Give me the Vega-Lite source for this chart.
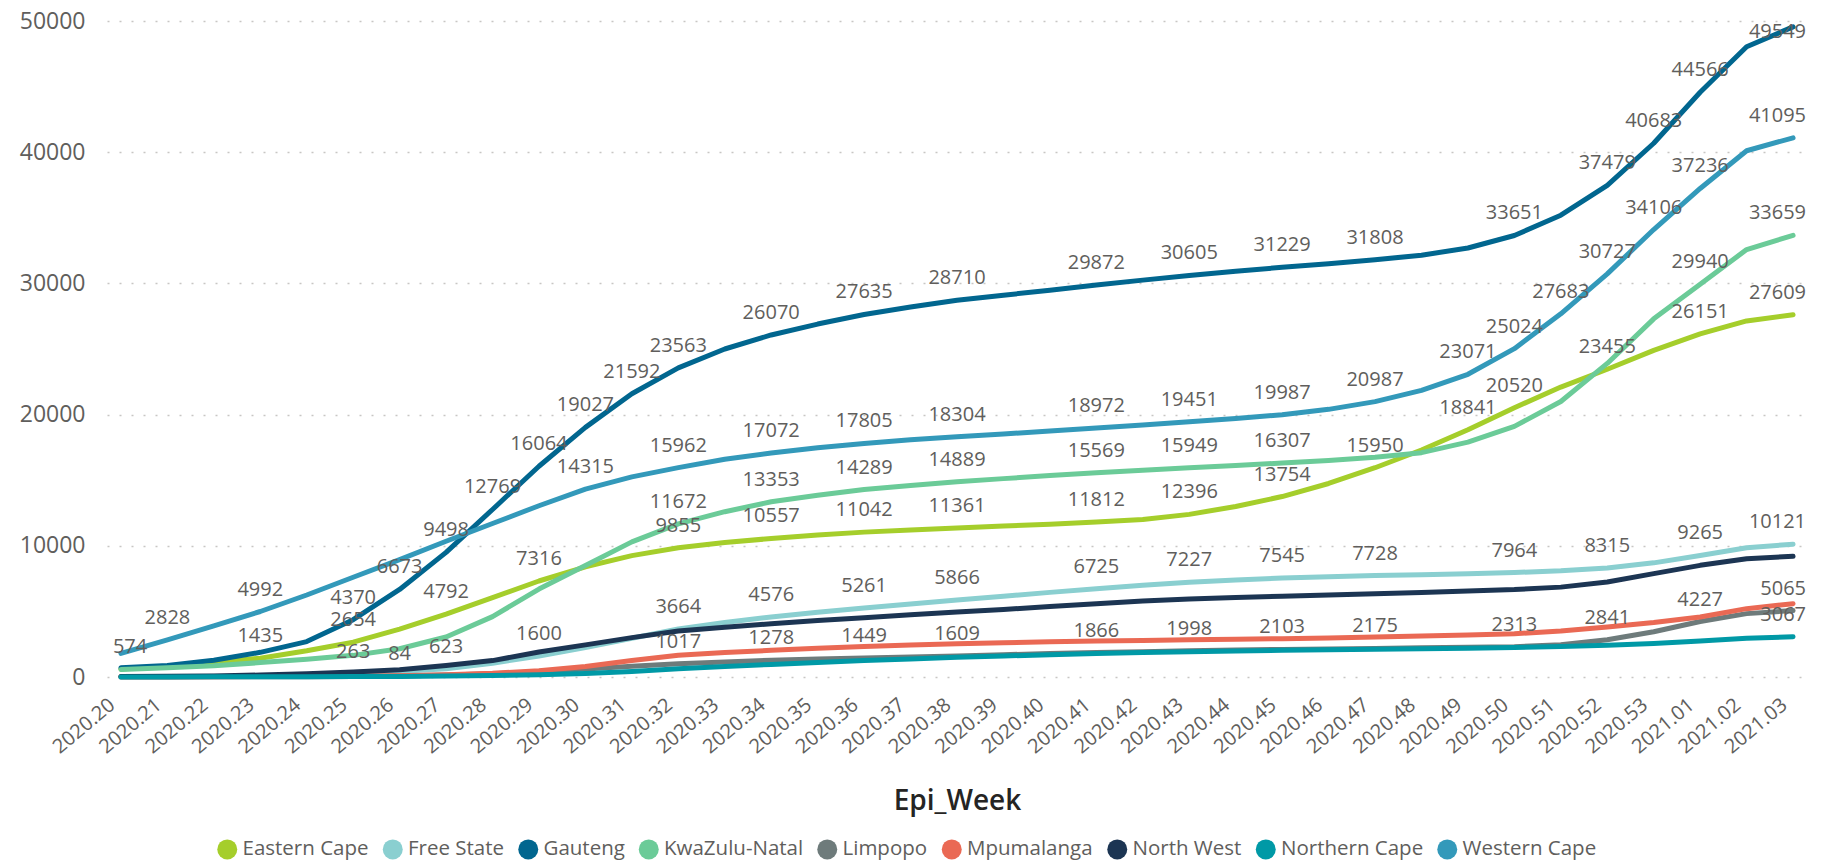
{
"$schema":"https://vega.github.io/schema/vega-lite/v6.json",
"width":1700,"height":656,
"autosize":{"type":"none"},
"padding":{"left":107,"top":21,"right":21,"bottom":185},
"config":{"view":{"stroke":null},"font":"Open Sans"},
"datasets":{
"deaths":[
{"week":"2020.20","province":"Eastern Cape","deaths":600},{"week":"2020.21","province":"Eastern Cape","deaths":800},{"week":"2020.22","province":"Eastern Cape","deaths":1100},{"week":"2020.23","province":"Eastern Cape","deaths":1435},{"week":"2020.24","province":"Eastern Cape","deaths":2000},{"week":"2020.25","province":"Eastern Cape","deaths":2654},{"week":"2020.26","province":"Eastern Cape","deaths":3650},{"week":"2020.27","province":"Eastern Cape","deaths":4792},{"week":"2020.28","province":"Eastern Cape","deaths":6050},{"week":"2020.29","province":"Eastern Cape","deaths":7316},{"week":"2020.30","province":"Eastern Cape","deaths":8400},{"week":"2020.31","province":"Eastern Cape","deaths":9250},{"week":"2020.32","province":"Eastern Cape","deaths":9855},{"week":"2020.33","province":"Eastern Cape","deaths":10250},{"week":"2020.34","province":"Eastern Cape","deaths":10557},{"week":"2020.35","province":"Eastern Cape","deaths":10820},{"week":"2020.36","province":"Eastern Cape","deaths":11042},{"week":"2020.37","province":"Eastern Cape","deaths":11200},{"week":"2020.38","province":"Eastern Cape","deaths":11361},{"week":"2020.39","province":"Eastern Cape","deaths":11500},{"week":"2020.40","province":"Eastern Cape","deaths":11650},{"week":"2020.41","province":"Eastern Cape","deaths":11812},{"week":"2020.42","province":"Eastern Cape","deaths":12000},{"week":"2020.43","province":"Eastern Cape","deaths":12396},{"week":"2020.44","province":"Eastern Cape","deaths":13000},{"week":"2020.45","province":"Eastern Cape","deaths":13754},{"week":"2020.46","province":"Eastern Cape","deaths":14750},{"week":"2020.47","province":"Eastern Cape","deaths":15950},{"week":"2020.48","province":"Eastern Cape","deaths":17300},{"week":"2020.49","province":"Eastern Cape","deaths":18841},{"week":"2020.50","province":"Eastern Cape","deaths":20520},{"week":"2020.51","province":"Eastern Cape","deaths":22100},{"week":"2020.52","province":"Eastern Cape","deaths":23455},{"week":"2020.53","province":"Eastern Cape","deaths":24900},{"week":"2021.01","province":"Eastern Cape","deaths":26151},{"week":"2021.02","province":"Eastern Cape","deaths":27140},{"week":"2021.03","province":"Eastern Cape","deaths":27609},
{"week":"2020.20","province":"Free State","deaths":30},{"week":"2020.21","province":"Free State","deaths":40},{"week":"2020.22","province":"Free State","deaths":55},{"week":"2020.23","province":"Free State","deaths":75},{"week":"2020.24","province":"Free State","deaths":130},{"week":"2020.25","province":"Free State","deaths":263},{"week":"2020.26","province":"Free State","deaths":420},{"week":"2020.27","province":"Free State","deaths":623},{"week":"2020.28","province":"Free State","deaths":1050},{"week":"2020.29","province":"Free State","deaths":1600},{"week":"2020.30","province":"Free State","deaths":2250},{"week":"2020.31","province":"Free State","deaths":2950},{"week":"2020.32","province":"Free State","deaths":3664},{"week":"2020.33","province":"Free State","deaths":4150},{"week":"2020.34","province":"Free State","deaths":4576},{"week":"2020.35","province":"Free State","deaths":4930},{"week":"2020.36","province":"Free State","deaths":5261},{"week":"2020.37","province":"Free State","deaths":5570},{"week":"2020.38","province":"Free State","deaths":5866},{"week":"2020.39","province":"Free State","deaths":6150},{"week":"2020.40","province":"Free State","deaths":6450},{"week":"2020.41","province":"Free State","deaths":6725},{"week":"2020.42","province":"Free State","deaths":6990},{"week":"2020.43","province":"Free State","deaths":7227},{"week":"2020.44","province":"Free State","deaths":7400},{"week":"2020.45","province":"Free State","deaths":7545},{"week":"2020.46","province":"Free State","deaths":7650},{"week":"2020.47","province":"Free State","deaths":7728},{"week":"2020.48","province":"Free State","deaths":7800},{"week":"2020.49","province":"Free State","deaths":7870},{"week":"2020.50","province":"Free State","deaths":7964},{"week":"2020.51","province":"Free State","deaths":8100},{"week":"2020.52","province":"Free State","deaths":8315},{"week":"2020.53","province":"Free State","deaths":8700},{"week":"2021.01","province":"Free State","deaths":9265},{"week":"2021.02","province":"Free State","deaths":9850},{"week":"2021.03","province":"Free State","deaths":10121},
{"week":"2020.20","province":"Gauteng","deaths":700},{"week":"2020.21","province":"Gauteng","deaths":880},{"week":"2020.22","province":"Gauteng","deaths":1270},{"week":"2020.23","province":"Gauteng","deaths":1880},{"week":"2020.24","province":"Gauteng","deaths":2700},{"week":"2020.25","province":"Gauteng","deaths":4370},{"week":"2020.26","province":"Gauteng","deaths":6673},{"week":"2020.27","province":"Gauteng","deaths":9498},{"week":"2020.28","province":"Gauteng","deaths":12769},{"week":"2020.29","province":"Gauteng","deaths":16064},{"week":"2020.30","province":"Gauteng","deaths":19027},{"week":"2020.31","province":"Gauteng","deaths":21592},{"week":"2020.32","province":"Gauteng","deaths":23563},{"week":"2020.33","province":"Gauteng","deaths":25000},{"week":"2020.34","province":"Gauteng","deaths":26070},{"week":"2020.35","province":"Gauteng","deaths":26900},{"week":"2020.36","province":"Gauteng","deaths":27635},{"week":"2020.37","province":"Gauteng","deaths":28200},{"week":"2020.38","province":"Gauteng","deaths":28710},{"week":"2020.39","province":"Gauteng","deaths":29100},{"week":"2020.40","province":"Gauteng","deaths":29480},{"week":"2020.41","province":"Gauteng","deaths":29872},{"week":"2020.42","province":"Gauteng","deaths":30250},{"week":"2020.43","province":"Gauteng","deaths":30605},{"week":"2020.44","province":"Gauteng","deaths":30920},{"week":"2020.45","province":"Gauteng","deaths":31229},{"week":"2020.46","province":"Gauteng","deaths":31500},{"week":"2020.47","province":"Gauteng","deaths":31808},{"week":"2020.48","province":"Gauteng","deaths":32150},{"week":"2020.49","province":"Gauteng","deaths":32700},{"week":"2020.50","province":"Gauteng","deaths":33651},{"week":"2020.51","province":"Gauteng","deaths":35200},{"week":"2020.52","province":"Gauteng","deaths":37479},{"week":"2020.53","province":"Gauteng","deaths":40683},{"week":"2021.01","province":"Gauteng","deaths":44566},{"week":"2021.02","province":"Gauteng","deaths":48040},{"week":"2021.03","province":"Gauteng","deaths":49549},
{"week":"2020.20","province":"KwaZulu-Natal","deaths":574},{"week":"2020.21","province":"KwaZulu-Natal","deaths":700},{"week":"2020.22","province":"KwaZulu-Natal","deaths":850},{"week":"2020.23","province":"KwaZulu-Natal","deaths":1100},{"week":"2020.24","province":"KwaZulu-Natal","deaths":1350},{"week":"2020.25","province":"KwaZulu-Natal","deaths":1650},{"week":"2020.26","province":"KwaZulu-Natal","deaths":2150},{"week":"2020.27","province":"KwaZulu-Natal","deaths":3050},{"week":"2020.28","province":"KwaZulu-Natal","deaths":4600},{"week":"2020.29","province":"KwaZulu-Natal","deaths":6700},{"week":"2020.30","province":"KwaZulu-Natal","deaths":8500},{"week":"2020.31","province":"KwaZulu-Natal","deaths":10300},{"week":"2020.32","province":"KwaZulu-Natal","deaths":11672},{"week":"2020.33","province":"KwaZulu-Natal","deaths":12600},{"week":"2020.34","province":"KwaZulu-Natal","deaths":13353},{"week":"2020.35","province":"KwaZulu-Natal","deaths":13850},{"week":"2020.36","province":"KwaZulu-Natal","deaths":14289},{"week":"2020.37","province":"KwaZulu-Natal","deaths":14600},{"week":"2020.38","province":"KwaZulu-Natal","deaths":14889},{"week":"2020.39","province":"KwaZulu-Natal","deaths":15120},{"week":"2020.40","province":"KwaZulu-Natal","deaths":15350},{"week":"2020.41","province":"KwaZulu-Natal","deaths":15569},{"week":"2020.42","province":"KwaZulu-Natal","deaths":15760},{"week":"2020.43","province":"KwaZulu-Natal","deaths":15949},{"week":"2020.44","province":"KwaZulu-Natal","deaths":16120},{"week":"2020.45","province":"KwaZulu-Natal","deaths":16307},{"week":"2020.46","province":"KwaZulu-Natal","deaths":16500},{"week":"2020.47","province":"KwaZulu-Natal","deaths":16750},{"week":"2020.48","province":"KwaZulu-Natal","deaths":17100},{"week":"2020.49","province":"KwaZulu-Natal","deaths":17900},{"week":"2020.50","province":"KwaZulu-Natal","deaths":19100},{"week":"2020.51","province":"KwaZulu-Natal","deaths":21000},{"week":"2020.52","province":"KwaZulu-Natal","deaths":23900},{"week":"2020.53","province":"KwaZulu-Natal","deaths":27300},{"week":"2021.01","province":"KwaZulu-Natal","deaths":29940},{"week":"2021.02","province":"KwaZulu-Natal","deaths":32580},{"week":"2021.03","province":"KwaZulu-Natal","deaths":33659},
{"week":"2020.20","province":"Limpopo","deaths":0},{"week":"2020.21","province":"Limpopo","deaths":5},{"week":"2020.22","province":"Limpopo","deaths":10},{"week":"2020.23","province":"Limpopo","deaths":15},{"week":"2020.24","province":"Limpopo","deaths":25},{"week":"2020.25","province":"Limpopo","deaths":45},{"week":"2020.26","province":"Limpopo","deaths":84},{"week":"2020.27","province":"Limpopo","deaths":150},{"week":"2020.28","province":"Limpopo","deaths":250},{"week":"2020.29","province":"Limpopo","deaths":400},{"week":"2020.30","province":"Limpopo","deaths":600},{"week":"2020.31","province":"Limpopo","deaths":820},{"week":"2020.32","province":"Limpopo","deaths":1017},{"week":"2020.33","province":"Limpopo","deaths":1150},{"week":"2020.34","province":"Limpopo","deaths":1278},{"week":"2020.35","province":"Limpopo","deaths":1370},{"week":"2020.36","province":"Limpopo","deaths":1449},{"week":"2020.37","province":"Limpopo","deaths":1530},{"week":"2020.38","province":"Limpopo","deaths":1609},{"week":"2020.39","province":"Limpopo","deaths":1700},{"week":"2020.40","province":"Limpopo","deaths":1790},{"week":"2020.41","province":"Limpopo","deaths":1866},{"week":"2020.42","province":"Limpopo","deaths":1930},{"week":"2020.43","province":"Limpopo","deaths":1998},{"week":"2020.44","province":"Limpopo","deaths":2050},{"week":"2020.45","province":"Limpopo","deaths":2103},{"week":"2020.46","province":"Limpopo","deaths":2140},{"week":"2020.47","province":"Limpopo","deaths":2175},{"week":"2020.48","province":"Limpopo","deaths":2220},{"week":"2020.49","province":"Limpopo","deaths":2260},{"week":"2020.50","province":"Limpopo","deaths":2313},{"week":"2020.51","province":"Limpopo","deaths":2450},{"week":"2020.52","province":"Limpopo","deaths":2841},{"week":"2020.53","province":"Limpopo","deaths":3450},{"week":"2021.01","province":"Limpopo","deaths":4227},{"week":"2021.02","province":"Limpopo","deaths":4830},{"week":"2021.03","province":"Limpopo","deaths":5065},
{"week":"2020.20","province":"Mpumalanga","deaths":10},{"week":"2020.21","province":"Mpumalanga","deaths":15},{"week":"2020.22","province":"Mpumalanga","deaths":20},{"week":"2020.23","province":"Mpumalanga","deaths":30},{"week":"2020.24","province":"Mpumalanga","deaths":45},{"week":"2020.25","province":"Mpumalanga","deaths":65},{"week":"2020.26","province":"Mpumalanga","deaths":100},{"week":"2020.27","province":"Mpumalanga","deaths":170},{"week":"2020.28","province":"Mpumalanga","deaths":280},{"week":"2020.29","province":"Mpumalanga","deaths":480},{"week":"2020.30","province":"Mpumalanga","deaths":800},{"week":"2020.31","province":"Mpumalanga","deaths":1250},{"week":"2020.32","province":"Mpumalanga","deaths":1650},{"week":"2020.33","province":"Mpumalanga","deaths":1870},{"week":"2020.34","province":"Mpumalanga","deaths":2030},{"week":"2020.35","province":"Mpumalanga","deaths":2200},{"week":"2020.36","province":"Mpumalanga","deaths":2330},{"week":"2020.37","province":"Mpumalanga","deaths":2440},{"week":"2020.38","province":"Mpumalanga","deaths":2540},{"week":"2020.39","province":"Mpumalanga","deaths":2620},{"week":"2020.40","province":"Mpumalanga","deaths":2680},{"week":"2020.41","province":"Mpumalanga","deaths":2740},{"week":"2020.42","province":"Mpumalanga","deaths":2790},{"week":"2020.43","province":"Mpumalanga","deaths":2830},{"week":"2020.44","province":"Mpumalanga","deaths":2880},{"week":"2020.45","province":"Mpumalanga","deaths":2920},{"week":"2020.46","province":"Mpumalanga","deaths":2980},{"week":"2020.47","province":"Mpumalanga","deaths":3040},{"week":"2020.48","province":"Mpumalanga","deaths":3120},{"week":"2020.49","province":"Mpumalanga","deaths":3200},{"week":"2020.50","province":"Mpumalanga","deaths":3300},{"week":"2020.51","province":"Mpumalanga","deaths":3500},{"week":"2020.52","province":"Mpumalanga","deaths":3810},{"week":"2020.53","province":"Mpumalanga","deaths":4150},{"week":"2021.01","province":"Mpumalanga","deaths":4570},{"week":"2021.02","province":"Mpumalanga","deaths":5210},{"week":"2021.03","province":"Mpumalanga","deaths":5590},
{"week":"2020.20","province":"North West","deaths":30},{"week":"2020.21","province":"North West","deaths":50},{"week":"2020.22","province":"North West","deaths":80},{"week":"2020.23","province":"North West","deaths":150},{"week":"2020.24","province":"North West","deaths":250},{"week":"2020.25","province":"North West","deaths":380},{"week":"2020.26","province":"North West","deaths":560},{"week":"2020.27","province":"North West","deaths":885},{"week":"2020.28","province":"North West","deaths":1250},{"week":"2020.29","province":"North West","deaths":1900},{"week":"2020.30","province":"North West","deaths":2450},{"week":"2020.31","province":"North West","deaths":3000},{"week":"2020.32","province":"North West","deaths":3500},{"week":"2020.33","province":"North West","deaths":3800},{"week":"2020.34","province":"North West","deaths":4060},{"week":"2020.35","province":"North West","deaths":4300},{"week":"2020.36","province":"North West","deaths":4520},{"week":"2020.37","province":"North West","deaths":4740},{"week":"2020.38","province":"North West","deaths":4950},{"week":"2020.39","province":"North West","deaths":5150},{"week":"2020.40","province":"North West","deaths":5370},{"week":"2020.41","province":"North West","deaths":5590},{"week":"2020.42","province":"North West","deaths":5800},{"week":"2020.43","province":"North West","deaths":5950},{"week":"2020.44","province":"North West","deaths":6060},{"week":"2020.45","province":"North West","deaths":6150},{"week":"2020.46","province":"North West","deaths":6250},{"week":"2020.47","province":"North West","deaths":6350},{"week":"2020.48","province":"North West","deaths":6450},{"week":"2020.49","province":"North West","deaths":6550},{"week":"2020.50","province":"North West","deaths":6660},{"week":"2020.51","province":"North West","deaths":6850},{"week":"2020.52","province":"North West","deaths":7240},{"week":"2020.53","province":"North West","deaths":7880},{"week":"2021.01","province":"North West","deaths":8510},{"week":"2021.02","province":"North West","deaths":9020},{"week":"2021.03","province":"North West","deaths":9200},
{"week":"2020.20","province":"Northern Cape","deaths":0},{"week":"2020.21","province":"Northern Cape","deaths":5},{"week":"2020.22","province":"Northern Cape","deaths":10},{"week":"2020.23","province":"Northern Cape","deaths":15},{"week":"2020.24","province":"Northern Cape","deaths":20},{"week":"2020.25","province":"Northern Cape","deaths":30},{"week":"2020.26","province":"Northern Cape","deaths":45},{"week":"2020.27","province":"Northern Cape","deaths":70},{"week":"2020.28","province":"Northern Cape","deaths":110},{"week":"2020.29","province":"Northern Cape","deaths":170},{"week":"2020.30","province":"Northern Cape","deaths":270},{"week":"2020.31","province":"Northern Cape","deaths":420},{"week":"2020.32","province":"Northern Cape","deaths":620},{"week":"2020.33","province":"Northern Cape","deaths":800},{"week":"2020.34","province":"Northern Cape","deaths":960},{"week":"2020.35","province":"Northern Cape","deaths":1100},{"week":"2020.36","province":"Northern Cape","deaths":1250},{"week":"2020.37","province":"Northern Cape","deaths":1380},{"week":"2020.38","province":"Northern Cape","deaths":1500},{"week":"2020.39","province":"Northern Cape","deaths":1600},{"week":"2020.40","province":"Northern Cape","deaths":1700},{"week":"2020.41","province":"Northern Cape","deaths":1790},{"week":"2020.42","province":"Northern Cape","deaths":1870},{"week":"2020.43","province":"Northern Cape","deaths":1930},{"week":"2020.44","province":"Northern Cape","deaths":1990},{"week":"2020.45","province":"Northern Cape","deaths":2040},{"week":"2020.46","province":"Northern Cape","deaths":2080},{"week":"2020.47","province":"Northern Cape","deaths":2120},{"week":"2020.48","province":"Northern Cape","deaths":2160},{"week":"2020.49","province":"Northern Cape","deaths":2200},{"week":"2020.50","province":"Northern Cape","deaths":2250},{"week":"2020.51","province":"Northern Cape","deaths":2330},{"week":"2020.52","province":"Northern Cape","deaths":2420},{"week":"2020.53","province":"Northern Cape","deaths":2560},{"week":"2021.01","province":"Northern Cape","deaths":2740},{"week":"2021.02","province":"Northern Cape","deaths":2950},{"week":"2021.03","province":"Northern Cape","deaths":3067},
{"week":"2020.20","province":"Western Cape","deaths":1800},{"week":"2020.21","province":"Western Cape","deaths":2828},{"week":"2020.22","province":"Western Cape","deaths":3900},{"week":"2020.23","province":"Western Cape","deaths":4992},{"week":"2020.24","province":"Western Cape","deaths":6250},{"week":"2020.25","province":"Western Cape","deaths":7600},{"week":"2020.26","province":"Western Cape","deaths":8950},{"week":"2020.27","province":"Western Cape","deaths":10350},{"week":"2020.28","province":"Western Cape","deaths":11700},{"week":"2020.29","province":"Western Cape","deaths":13050},{"week":"2020.30","province":"Western Cape","deaths":14315},{"week":"2020.31","province":"Western Cape","deaths":15250},{"week":"2020.32","province":"Western Cape","deaths":15962},{"week":"2020.33","province":"Western Cape","deaths":16600},{"week":"2020.34","province":"Western Cape","deaths":17072},{"week":"2020.35","province":"Western Cape","deaths":17480},{"week":"2020.36","province":"Western Cape","deaths":17805},{"week":"2020.37","province":"Western Cape","deaths":18080},{"week":"2020.38","province":"Western Cape","deaths":18304},{"week":"2020.39","province":"Western Cape","deaths":18520},{"week":"2020.40","province":"Western Cape","deaths":18750},{"week":"2020.41","province":"Western Cape","deaths":18972},{"week":"2020.42","province":"Western Cape","deaths":19200},{"week":"2020.43","province":"Western Cape","deaths":19451},{"week":"2020.44","province":"Western Cape","deaths":19700},{"week":"2020.45","province":"Western Cape","deaths":19987},{"week":"2020.46","province":"Western Cape","deaths":20400},{"week":"2020.47","province":"Western Cape","deaths":20987},{"week":"2020.48","province":"Western Cape","deaths":21850},{"week":"2020.49","province":"Western Cape","deaths":23071},{"week":"2020.50","province":"Western Cape","deaths":25024},{"week":"2020.51","province":"Western Cape","deaths":27683},{"week":"2020.52","province":"Western Cape","deaths":30727},{"week":"2020.53","province":"Western Cape","deaths":34106},{"week":"2021.01","province":"Western Cape","deaths":37236},{"week":"2021.02","province":"Western Cape","deaths":40110},{"week":"2021.03","province":"Western Cape","deaths":41095}
],
"labels":[
{"week":"2020.21","province":"Western Cape","deaths":2828},{"week":"2020.23","province":"Western Cape","deaths":4992},{"week":"2020.30","province":"Western Cape","deaths":14315},{"week":"2020.32","province":"Western Cape","deaths":15962},{"week":"2020.34","province":"Western Cape","deaths":17072},{"week":"2020.36","province":"Western Cape","deaths":17805},{"week":"2020.38","province":"Western Cape","deaths":18304},{"week":"2020.41","province":"Western Cape","deaths":18972},{"week":"2020.43","province":"Western Cape","deaths":19451},{"week":"2020.45","province":"Western Cape","deaths":19987},{"week":"2020.47","province":"Western Cape","deaths":20987},{"week":"2020.49","province":"Western Cape","deaths":23071},{"week":"2020.50","province":"Western Cape","deaths":25024},{"week":"2020.51","province":"Western Cape","deaths":27683},{"week":"2020.52","province":"Western Cape","deaths":30727},{"week":"2020.53","province":"Western Cape","deaths":34106},{"week":"2021.01","province":"Western Cape","deaths":37236},{"week":"2021.03","province":"Western Cape","deaths":41095},
{"week":"2020.25","province":"Gauteng","deaths":4370},{"week":"2020.26","province":"Gauteng","deaths":6673},{"week":"2020.27","province":"Gauteng","deaths":9498},{"week":"2020.28","province":"Gauteng","deaths":12769},{"week":"2020.29","province":"Gauteng","deaths":16064},{"week":"2020.30","province":"Gauteng","deaths":19027},{"week":"2020.31","province":"Gauteng","deaths":21592},{"week":"2020.32","province":"Gauteng","deaths":23563},{"week":"2020.34","province":"Gauteng","deaths":26070},{"week":"2020.36","province":"Gauteng","deaths":27635},{"week":"2020.38","province":"Gauteng","deaths":28710},{"week":"2020.41","province":"Gauteng","deaths":29872},{"week":"2020.43","province":"Gauteng","deaths":30605},{"week":"2020.45","province":"Gauteng","deaths":31229},{"week":"2020.47","province":"Gauteng","deaths":31808},{"week":"2020.50","province":"Gauteng","deaths":33651},{"week":"2020.52","province":"Gauteng","deaths":37479},{"week":"2020.53","province":"Gauteng","deaths":40683},{"week":"2021.01","province":"Gauteng","deaths":44566},{"week":"2021.03","province":"Gauteng","deaths":49549},
{"week":"2020.23","province":"Eastern Cape","deaths":1435},{"week":"2020.25","province":"Eastern Cape","deaths":2654},{"week":"2020.27","province":"Eastern Cape","deaths":4792},{"week":"2020.29","province":"Eastern Cape","deaths":7316},{"week":"2020.32","province":"Eastern Cape","deaths":9855},{"week":"2020.34","province":"Eastern Cape","deaths":10557},{"week":"2020.36","province":"Eastern Cape","deaths":11042},{"week":"2020.38","province":"Eastern Cape","deaths":11361},{"week":"2020.41","province":"Eastern Cape","deaths":11812},{"week":"2020.43","province":"Eastern Cape","deaths":12396},{"week":"2020.45","province":"Eastern Cape","deaths":13754},{"week":"2020.47","province":"Eastern Cape","deaths":15950},{"week":"2020.49","province":"Eastern Cape","deaths":18841},{"week":"2020.50","province":"Eastern Cape","deaths":20520},{"week":"2020.52","province":"Eastern Cape","deaths":23455},{"week":"2021.01","province":"Eastern Cape","deaths":26151},{"week":"2021.03","province":"Eastern Cape","deaths":27609},
{"week":"2020.20","province":"KwaZulu-Natal","deaths":574},{"week":"2020.32","province":"KwaZulu-Natal","deaths":11672},{"week":"2020.34","province":"KwaZulu-Natal","deaths":13353},{"week":"2020.36","province":"KwaZulu-Natal","deaths":14289},{"week":"2020.38","province":"KwaZulu-Natal","deaths":14889},{"week":"2020.41","province":"KwaZulu-Natal","deaths":15569},{"week":"2020.43","province":"KwaZulu-Natal","deaths":15949},{"week":"2020.45","province":"KwaZulu-Natal","deaths":16307},{"week":"2021.01","province":"KwaZulu-Natal","deaths":29940},{"week":"2021.03","province":"KwaZulu-Natal","deaths":33659},
{"week":"2020.25","province":"Free State","deaths":263},{"week":"2020.27","province":"Free State","deaths":623},{"week":"2020.29","province":"Free State","deaths":1600},{"week":"2020.32","province":"Free State","deaths":3664},{"week":"2020.34","province":"Free State","deaths":4576},{"week":"2020.36","province":"Free State","deaths":5261},{"week":"2020.38","province":"Free State","deaths":5866},{"week":"2020.41","province":"Free State","deaths":6725},{"week":"2020.43","province":"Free State","deaths":7227},{"week":"2020.45","province":"Free State","deaths":7545},{"week":"2020.47","province":"Free State","deaths":7728},{"week":"2020.50","province":"Free State","deaths":7964},{"week":"2020.52","province":"Free State","deaths":8315},{"week":"2021.01","province":"Free State","deaths":9265},{"week":"2021.03","province":"Free State","deaths":10121},
{"week":"2020.26","province":"Limpopo","deaths":84},{"week":"2020.32","province":"Limpopo","deaths":1017},{"week":"2020.34","province":"Limpopo","deaths":1278},{"week":"2020.36","province":"Limpopo","deaths":1449},{"week":"2020.38","province":"Limpopo","deaths":1609},{"week":"2020.41","province":"Limpopo","deaths":1866},{"week":"2020.43","province":"Limpopo","deaths":1998},{"week":"2020.45","province":"Limpopo","deaths":2103},{"week":"2020.47","province":"Limpopo","deaths":2175},{"week":"2020.50","province":"Limpopo","deaths":2313},{"week":"2020.52","province":"Limpopo","deaths":2841},{"week":"2021.01","province":"Limpopo","deaths":4227},{"week":"2021.03","province":"Limpopo","deaths":5065},
{"week":"2021.03","province":"Northern Cape","deaths":3067}
]
},
"layer":[
{"data":{"name":"deaths"},
 "mark":{"type":"line","strokeWidth":5,"strokeCap":"round","strokeJoin":"round"},
 "encoding":{
  "x":{"field":"week","type":"ordinal","title":"Epi_Week","scale":{"type":"point","padding":0.3},
   "axis":{"labelAngle":-40,"labelAlign":"right","labelBaseline":"middle","labelFontSize":20,"labelColor":"#605E5C","labelPadding":25,"labelOffset":-9,"labelOverlap":false,"labelBound":false,"ticks":false,"domain":false,"grid":false,"titleFontSize":28,"titleColor":"#252423","titleFontWeight":600,"titlePadding":30}},
  "y":{"field":"deaths","type":"quantitative","title":null,"scale":{"domain":[0,50000],"nice":false},
   "axis":{"values":[0,10000,20000,30000,40000,50000],"format":"d","labelFontSize":23,"labelColor":"#605E5C","labelPadding":22,"ticks":false,"domain":false,"gridDash":[2,10],"gridColor":"#C8C6C4","gridWidth":1.5}},
  "color":{"field":"province","type":"nominal",
   "scale":{"domain":["Eastern Cape","Free State","Gauteng","KwaZulu-Natal","Limpopo","Mpumalanga","North West","Northern Cape","Western Cape"],
            "range":["#A5CE2B","#8ACFD0","#01668F","#6BCB98","#6E7B7B","#EA6954","#1C3553","#0099A6","#3399BA"]},
   "legend":{"orient":"none","legendX":110,"legendY":818,"direction":"horizontal","columns":9,"title":null,"symbolType":"circle","symbolSize":400,"symbolStrokeWidth":0,"labelFontSize":20.5,"labelColor":"#605E5C","labelOffset":5,"columnPadding":13.5,
    "encode":{"symbols":{"update":{"fill":{"scale":"color","field":"value"},"fillOpacity":{"value":1},"strokeWidth":{"value":0}}}}}}
 }},
{"data":{"name":"labels"},
 "transform":[{"filter":"datum.week != '2020.20' && datum.week != '2021.03'"}],
 "mark":{"type":"text","fontSize":20,"color":"#605E5C","baseline":"alphabetic","align":"center","dy":-16},
 "encoding":{"x":{"field":"week","type":"ordinal","title":"Epi_Week"},"y":{"field":"deaths","type":"quantitative","title":null},"text":{"field":"deaths","type":"quantitative","format":"d"}}},
{"data":{"name":"labels"},
 "transform":[{"filter":"datum.week == '2020.20'"}],
 "mark":{"type":"text","fontSize":20,"color":"#605E5C","baseline":"alphabetic","align":"left","dx":-8,"dy":-16},
 "encoding":{"x":{"field":"week","type":"ordinal","title":"Epi_Week"},"y":{"field":"deaths","type":"quantitative","title":null},"text":{"field":"deaths","type":"quantitative","format":"d"}}},
{"data":{"name":"labels"},
 "transform":[{"filter":"datum.week == '2021.03' && datum.deaths < 45000"}],
 "mark":{"type":"text","fontSize":20,"color":"#605E5C","baseline":"alphabetic","align":"right","dx":13,"dy":-16},
 "encoding":{"x":{"field":"week","type":"ordinal","title":"Epi_Week"},"y":{"field":"deaths","type":"quantitative","title":null},"text":{"field":"deaths","type":"quantitative","format":"d"}}},
{"data":{"name":"labels"},
 "transform":[{"filter":"datum.week == '2021.03' && datum.deaths >= 45000"}],
 "mark":{"type":"text","fontSize":20,"color":"#605E5C","baseline":"alphabetic","align":"right","dx":13,"dy":11},
 "encoding":{"x":{"field":"week","type":"ordinal","title":"Epi_Week"},"y":{"field":"deaths","type":"quantitative","title":null},"text":{"field":"deaths","type":"quantitative","format":"d"}}}
]
}
